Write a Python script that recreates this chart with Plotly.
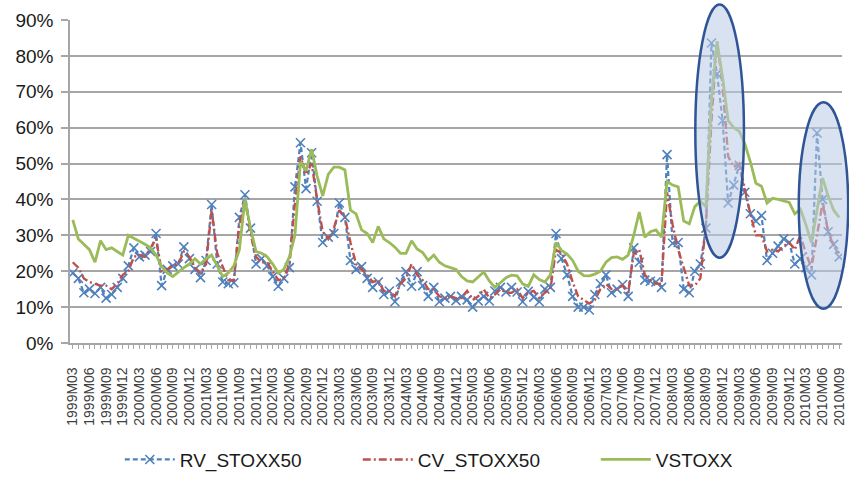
import plotly.graph_objects as go

# ---- categories (monthly, 1999M03 .. 2010M09) ----
months = []
_y, _m = 1999, 3
while (_y, _m) <= (2010, 9):
    months.append(f"{_y}M{_m:02d}")
    _m += 1
    if _m > 12:
        _m = 1
        _y += 1

# ---- series values (in %) ----
rv_stoxx50 = [
    19.5, 18, 14, 15, 13.8, 15.5, 12.5, 13.5, 15.5, 18,
    21.5, 26.5, 24, 24.5, 25.5, 30.5, 16, 20.5, 21.5, 22,
    26.8, 23.5, 20.5, 18.2, 23, 38.6, 22, 17, 16.5, 16.8,
    35, 41.3, 32, 22, 23.5, 21.5, 18.5, 15.8, 18, 21,
    43.5, 55.8, 43, 53, 39.5, 28, 29.5, 30.5, 39, 35,
    23, 20.5, 21.3, 18, 15.5, 17, 13.5, 14.5, 11.5, 17,
    19.9, 15.8, 19.9, 16, 13, 15.5, 11.5, 12.5, 13, 11.8,
    13, 12, 10, 11.7, 13, 11.7, 14.5, 15.5, 14.2, 15.5,
    14.2, 11.5, 14.4, 12.8, 11.5, 15, 15.5, 30.5, 23.5, 19,
    13, 10, 10, 9.2, 13.5, 16.5, 19, 14, 15, 16.3,
    13, 26.5, 22.5, 17.5, 17.2, 17, 15.5, 52.5, 27.8, 28,
    15, 14, 20, 22, 32, 83.6, 75, 62, 39, 44,
    49.5, 42, 36, 34, 35.5, 23, 25, 27, 29, 28,
    22, 23.5, 21, 19, 58.5, 40, 31, 27.5, 24,
]

cv_stoxx50 = [
    22.5, 21, 18, 17, 16.5, 16, 16, 15, 16.5, 19,
    20, 24, 24.5, 24, 26.5, 29, 20, 20.5, 21.5, 22,
    25.5, 24, 21, 19.5, 22, 37, 25, 21, 17.5, 17.5,
    33, 40, 30.5, 24, 22.5, 22.5, 20, 17.5, 18, 22,
    39, 52, 47, 50, 40, 31, 29, 32, 37, 35,
    28, 22, 20.5, 19, 17, 17.5, 14.5, 14.5, 13, 16.5,
    18, 22, 19, 17.5, 15, 15, 13, 12.5, 13, 12.5,
    12.5, 14.5, 12, 13, 15, 12.5, 13.5, 15, 14, 14,
    15, 12.5, 14, 14.5, 12.5, 14, 15, 26, 25, 22,
    17, 13, 12, 11, 12, 15, 16.5, 15, 15, 16,
    14, 25, 26, 19, 17.5, 16.5, 16.5, 42, 33, 26,
    21, 16, 16, 18, 33, 62, 84, 72, 52, 49,
    50, 43, 36, 30, 30, 25.5, 26, 25.5, 27, 28,
    26, 30, 25, 21, 30, 39, 31, 27, 25,
]

vstoxx = [
    34.3, 29, 27.5, 26, 22.5, 28.5, 26, 26.5, 25.5, 24.5,
    30, 29.2, 28.5, 27.5, 26.5, 24.5, 21.3, 19.5, 18.5, 19.8,
    21, 22, 23.5, 22, 23.5, 24.5, 21.5, 18.5, 19.5, 21.5,
    26, 40, 32, 25.5, 25, 24, 22, 19.5, 20.5, 24,
    30, 50.5, 48, 54, 46.5, 41, 47, 49, 49, 48.2,
    37, 36, 31.5, 30.5, 28, 32.5, 29, 28, 26.7, 25,
    25, 28.5, 26.2, 25.2, 23, 24.5, 22.5, 21.5, 21, 20.5,
    18.5, 17.3, 17, 18.5, 19.8, 17.3, 15.5, 16.8, 18.2, 18.9,
    18.7, 16.5, 15.8, 19, 17.7, 17, 19, 28, 25.8, 24.8,
    23, 20, 18.8, 18.7, 19.2, 20, 22.5, 23.8, 24, 23.3,
    24.5, 30, 36.5, 29.5, 31, 31.5, 29.5, 45, 44, 43.5,
    34, 33.2, 38, 39.5, 38, 68, 84, 74, 62, 60,
    59, 55.5, 50.5, 44.5, 43.7, 39, 40.3, 40, 39.6, 39.2,
    36, 37.3, 33, 28, 37, 46, 41, 37, 35,
]

# ---- tick labels ----
x_tick_text = [lab if k % 3 == 0 else "" for k, lab in enumerate(months)]
y_ticks = [0, 10, 20, 30, 40, 50, 60, 70, 80, 90]
y_tick_text = [f"{v}%" for v in y_ticks]

GRID = "#a6a6a6"
FONT = "Liberation Sans"

fig = go.Figure()
fig.add_trace(go.Scatter(
    x=months, y=rv_stoxx50, name="RV_STOXX50", mode="lines+markers",
    line=dict(color="#4F81BD", width=2.2, dash="5px,3px"),
    marker=dict(symbol="x-thin-open", size=9,
                line=dict(color="#5B9BD5", width=1.6)),
))
fig.add_trace(go.Scatter(
    x=months, y=cv_stoxx50, name="CV_STOXX50", mode="lines",
    line=dict(color="#C0504D", width=2.4, dash="8px,3px,2px,3px"),
))
fig.add_trace(go.Scatter(
    x=months, y=vstoxx, name="VSTOXX", mode="lines",
    line=dict(color="#9BBB59", width=2.8),
))

# highlight ellipses (paper coordinates)
for x0, x1, y0, y1 in [(0.810, 0.873, 0.264, 1.048), (0.944, 1.008, 0.106, 0.745)]:
    fig.add_shape(type="circle", xref="paper", yref="paper",
                  x0=x0, x1=x1, y0=y0, y1=y1, layer="above",
                  fillcolor="rgba(185,203,228,0.55)",
                  line=dict(color="#2F5597", width=2.5))

fig.update_layout(
    template="none",
    width=849, height=486,
    margin=dict(l=70, r=7, t=20, b=136),
    paper_bgcolor="white", plot_bgcolor="white",
    showlegend=True,
    legend=dict(orientation="h", x=0.0645, xanchor="left",
                y=-0.361, yanchor="middle",
                font=dict(family=FONT, size=19, color="#1a1a1a"),
                itemwidth=50, entrywidth=173, entrywidthmode="pixels",
                bgcolor="rgba(0,0,0,0)"),
    xaxis=dict(type="category", range=[-0.5, len(months) - 0.5],
               tickmode="array", tickvals=months, ticktext=x_tick_text,
               tickangle=-90, ticks="outside", ticklen=4, tickwidth=1,
               tickcolor=GRID, showline=True, linecolor=GRID, linewidth=1.5,
               showgrid=False, zeroline=False, automargin=False,
               tickfont=dict(family=FONT, size=14, color="#404040"),
               ticklabelstandoff=13),
    yaxis=dict(range=[0, 90], tickmode="array", tickvals=y_ticks,
               ticktext=y_tick_text, showgrid=True, gridcolor=GRID,
               gridwidth=1.5, ticks="outside", ticklen=7, tickwidth=1.5,
               tickcolor=GRID, showline=True, linecolor=GRID, linewidth=1.5,
               zeroline=False, automargin=False,
               tickfont=dict(family=FONT, size=19, color="#1a1a1a"),
               ticklabelstandoff=4),
)

fig.write_html("out.html",
               config={"displayModeBar": False},
               post_script="document.body.style.margin='0';"
                           "document.body.style.overflow='hidden';")
